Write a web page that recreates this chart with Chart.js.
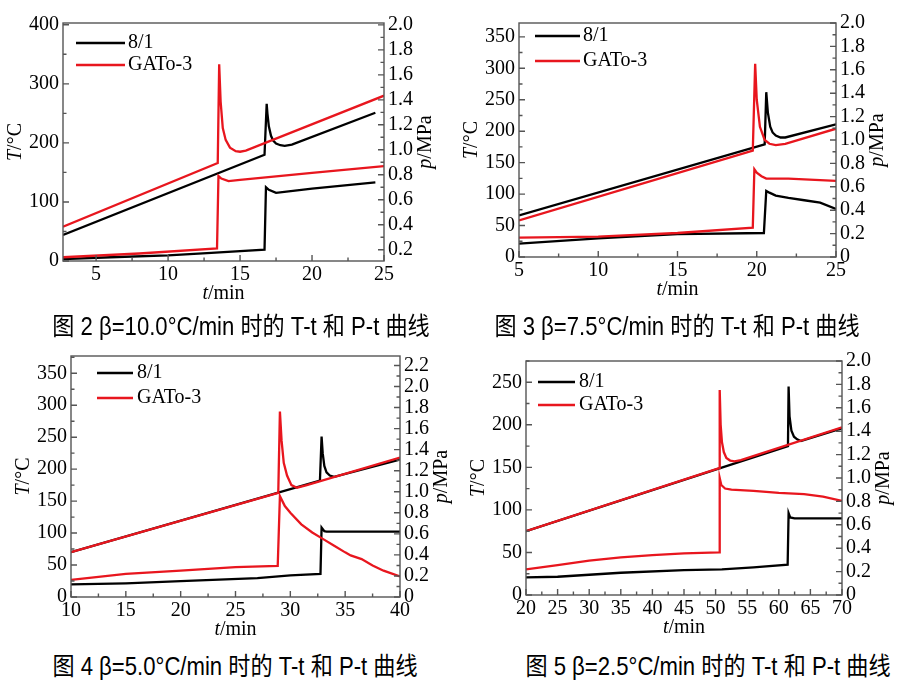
<!DOCTYPE html>
<html>
<head>
<meta charset="utf-8">
<script src="https://cdn.jsdelivr.net/npm/chart.js@4.4.0/dist/chart.umd.min.js"></script>
<style>
  body { margin: 0; background: #fff; width: 910px; height: 688px; position: relative; overflow: hidden; }
  canvas { position: absolute; }
  .cap { position: absolute; font: 25px/30px "Liberation Sans", "Noto Sans CJK SC", sans-serif; color: #000; white-space: nowrap; transform: translateX(-50%) scaleX(0.885); }
</style>
</head>
<body>
<canvas id="c2" width="455" height="305" style="left:0;top:0"></canvas>
<canvas id="c3" width="455" height="305" style="left:455px;top:0"></canvas>
<canvas id="c4" width="455" height="305" style="left:0;top:340px"></canvas>
<canvas id="c5" width="455" height="305" style="left:455px;top:340px"></canvas>
<div class="cap" style="left:241px;top:311px">图 2 β=10.0°C/min 时的 T-t 和 P-t 曲线</div>
<div class="cap" style="left:677px;top:311px">图 3 β=7.5°C/min 时的 T-t 和 P-t 曲线</div>
<div class="cap" style="left:235px;top:651px">图 4 β=5.0°C/min 时的 T-t 和 P-t 曲线</div>
<div class="cap" style="left:708px;top:651px">图 5 β=2.5°C/min 时的 T-t 和 P-t 曲线</div>
<script>
const seriesNames = ['8/1', 'GATo-3'];

// fig 2, beta = 10.0 C/min
const f2_tT_81 = [2.7, 16.7, 16.85, 16.9, 17.0, 17.15, 17.3, 17.5, 17.8, 18.1, 18.6, 24.4];
const f2_T_81  = [44, 180, 266, 250, 228, 212, 204, 199, 196, 195, 197, 251];
const f2_tT_GA = [2.7, 13.45, 13.55, 13.65, 13.8, 14.0, 14.3, 14.7, 15.0, 15.4, 25];
const f2_T_GA  = [58, 166, 333, 270, 225, 205, 192, 186, 185, 187, 280];
const f2_tp_81 = [2.7, 6, 10, 13, 16.7, 16.8, 17.0, 17.5, 20, 24.4];
const f2_p_81  = [0.125, 0.14, 0.155, 0.175, 0.20, 0.70, 0.68, 0.655, 0.69, 0.74];
const f2_tp_GA = [2.7, 8, 13.4, 13.5, 13.7, 14.2, 15, 20, 25];
const f2_p_GA  = [0.14, 0.17, 0.21, 0.79, 0.77, 0.75, 0.76, 0.815, 0.87];
const f2_xTicks = [5, 10, 15, 20, 25];
const f2_TTicks = [0, 100, 200, 300, 400];
const f2_pTicks = [0.2, 0.4, 0.6, 0.8, 1.0, 1.2, 1.4, 1.6, 1.8, 2.0];

// fig 3, beta = 7.5 C/min
const f3_tT_81 = [5, 20.5, 20.6, 20.7, 20.85, 21.0, 21.2, 21.5, 21.8, 25];
const f3_T_81  = [66, 179, 262, 230, 207, 198, 193, 190, 190, 211];
const f3_tT_GA = [5, 19.75, 19.9, 20.0, 20.2, 20.5, 20.8, 21.2, 21.8, 25];
const f3_T_GA  = [58, 169, 307, 250, 207, 186, 180, 178, 180, 204];
const f3_tp_81 = [5, 10, 15, 20.45, 20.6, 20.8, 21.2, 22, 23, 24, 25];
const f3_p_81  = [0.115, 0.16, 0.195, 0.205, 0.565, 0.55, 0.525, 0.505, 0.485, 0.465, 0.41];
const f3_tp_GA = [5, 10, 15, 19.75, 19.85, 20.0, 20.3, 20.6, 22, 25];
const f3_p_GA  = [0.165, 0.175, 0.205, 0.25, 0.75, 0.72, 0.69, 0.67, 0.67, 0.65];
const f3_xTicks = [5, 10, 15, 20, 25];
const f3_TTicks = [0, 50, 100, 150, 200, 250, 300, 350];
const f3_pTicks = [0, 0.2, 0.4, 0.6, 0.8, 1.0, 1.2, 1.4, 1.6, 1.8, 2.0];

// fig 4, beta = 5.0 C/min
const f4_tT_81 = [10, 32.7, 32.85, 32.95, 33.1, 33.3, 33.6, 34.0, 40];
const f4_T_81  = [70, 182, 251, 225, 205, 195, 190, 188, 215];
const f4_tT_GA = [10, 28.9, 29.05, 29.2, 29.4, 29.7, 30.1, 30.6, 31.5, 40];
const f4_T_GA  = [70, 163, 290, 245, 210, 190, 175, 171, 175, 218];
const f4_tp_81 = [10, 15, 20, 27, 30, 32.75, 32.85, 33.1, 33.3, 40];
const f4_p_81  = [0.12, 0.13, 0.15, 0.18, 0.205, 0.22, 0.66, 0.625, 0.622, 0.622];
const f4_tp_GA = [10, 15, 20, 25, 28.85, 29.05, 29.5, 30, 31, 32, 33, 34, 35, 35.5, 36.5, 37.5, 38.5, 40];
const f4_p_GA  = [0.163, 0.22, 0.25, 0.283, 0.295, 0.958, 0.864, 0.80, 0.69, 0.613, 0.55, 0.487, 0.424, 0.395, 0.36, 0.30, 0.25, 0.195];
const f4_xTicks = [10, 15, 20, 25, 30, 35, 40];
const f4_TTicks = [0, 50, 100, 150, 200, 250, 300, 350];
const f4_pTicks = [0, 0.2, 0.4, 0.6, 0.8, 1.0, 1.2, 1.4, 1.6, 1.8, 2.0, 2.2];

// fig 5, beta = 2.5 C/min
const f5_tT_81 = [20, 61.45, 61.55, 61.7, 62.0, 62.4, 62.9, 63.5, 70];
const f5_T_81  = [75, 175, 245, 210, 193, 186, 183, 181, 196];
const f5_tT_GA = [20, 50.55, 50.65, 50.8, 51.0, 51.3, 51.7, 52.3, 53.0, 54, 70];
const f5_T_GA  = [75, 149, 241, 200, 180, 168, 161, 158, 157, 158.5, 197];
const f5_tp_81 = [20, 25, 35, 45, 51, 56, 61.4, 61.55, 61.8, 62.5, 70];
const f5_p_81  = [0.15, 0.156, 0.19, 0.213, 0.219, 0.236, 0.26, 0.70, 0.663, 0.655, 0.655];
const f5_tp_GA = [20, 25, 30, 35, 40, 45, 50.55, 50.65, 50.9, 51.5, 52.5, 56, 60, 64, 67, 70];
const f5_p_GA  = [0.219, 0.256, 0.293, 0.321, 0.341, 0.356, 0.364, 1.0, 0.94, 0.91, 0.9, 0.89, 0.873, 0.862, 0.84, 0.805];
const f5_xTicks = [20, 25, 30, 35, 40, 45, 50, 55, 60, 65, 70];
const f5_TTicks = [0, 50, 100, 150, 200, 250];
const f5_pTicks = [0, 0.2, 0.4, 0.6, 0.8, 1.0, 1.2, 1.4, 1.6, 1.8, 2.0];

const RED = 'rgb(232,22,30)';
const BLACK = '#000';
const SERIF = '"Liberation Serif", "DejaVu Serif", serif';

function pts(t, v) {
    return t.map((x, i) => ({ x: x, y: v[i] }));
}

// half-step minor ticks inside [min,max]
function minors(major, min, max) {
    const step = major[1] - major[0];
    const out = [];
    for (let v = major[0] - step / 2; v <= max + 1e-9; v += step) {
        if (v >= min - 1e-9) out.push(v);
    }
    return out;
}

function drawTitle(ctx, parts, cx, cy, rot) {
    ctx.save();
    ctx.translate(cx, cy);
    if (rot) ctx.rotate(-Math.PI / 2);
    ctx.textBaseline = 'middle';
    ctx.textAlign = 'left';
    ctx.fillStyle = '#000';
    let w = 0;
    parts.forEach(p => {
        ctx.font = (p[1] ? 'italic ' : '') + '20px ' + SERIF;
        w += ctx.measureText(p[0]).width;
    });
    let x = -w / 2;
    parts.forEach(p => {
        ctx.font = (p[1] ? 'italic ' : '') + '20px ' + SERIF;
        ctx.fillText(p[0], x, 0);
        x += ctx.measureText(p[0]).width;
    });
    ctx.restore();
}

function makePanel(id, d) {
    const W = 455, H = 305;
    const frame = {
        id: 'frame' + id,
        afterDatasetsDraw(chart) {
            const ctx = chart.ctx, a = chart.chartArea;
            const sx = chart.scales.x, sy = chart.scales.y, sp = chart.scales.y2;
            ctx.save();
            ctx.strokeStyle = '#555';
            ctx.lineWidth = 1.4;
            ctx.strokeRect(a.left, a.top, a.right - a.left, a.bottom - a.top);
            ctx.beginPath();
            const tick = (list, len, fn) => list.forEach(v => fn(v, len));
            const xt = (v, len) => { const x = sx.getPixelForValue(v); ctx.moveTo(x, a.bottom); ctx.lineTo(x, a.bottom - len); };
            const lt = (v, len) => { const y = sy.getPixelForValue(v); ctx.moveTo(a.left, y); ctx.lineTo(a.left + len, y); };
            const rt = (v, len) => { const y = sp.getPixelForValue(v); ctx.moveTo(a.right, y); ctx.lineTo(a.right - len, y); };
            tick(d.xTicks, 6, xt);
            tick(minors(d.xTicks, d.x[0], d.x[1]), 3.5, xt);
            tick(d.TTicks, 6, lt);
            tick(minors(d.TTicks, d.T[0], d.T[1]), 3.5, lt);
            tick(d.pTicks, 6, rt);
            tick(minors(d.pTicks, d.p[0], d.p[1]), 3.5, rt);
            ctx.stroke();

            const midY = (a.top + a.bottom) / 2;
            drawTitle(ctx, [['T', 1], ['/°C', 0]], a.left - 47, midY, true);
            drawTitle(ctx, [['p', 1], ['/MPa', 0]], a.right + 42, midY, true);
            drawTitle(ctx, [['t', 1], ['/min', 0]], (a.left + a.right) / 2, a.bottom + 33, false);

            // legend
            const L = d.legend;
            [[BLACK, seriesNames[0], L.y1], [RED, seriesNames[1], L.y2]].forEach(r => {
                ctx.strokeStyle = r[0];
                ctx.lineWidth = 2.4;
                ctx.beginPath();
                ctx.moveTo(a.left + L.x0, a.top + r[2]);
                ctx.lineTo(a.left + L.x1, a.top + r[2]);
                ctx.stroke();
                ctx.fillStyle = '#000';
                ctx.font = '20px ' + SERIF;
                ctx.textBaseline = 'middle';
                ctx.fillText(r[1], a.left + L.tx, a.top + r[2]);
            });
            ctx.restore();
        }
    };

    const tickFont = { family: SERIF, size: 20 };
    new Chart(document.getElementById(id), {
        type: 'line',
        data: {
            datasets: [
                { label: seriesNames[1], data: pts(d.tT_GA, d.T_GA), yAxisID: 'y', borderColor: RED, order: 0 },
                { label: seriesNames[1], data: pts(d.tp_GA, d.p_GA), yAxisID: 'y2', borderColor: RED, order: 0 },
                { label: seriesNames[0], data: pts(d.tT_81, d.T_81), yAxisID: 'y', borderColor: BLACK, order: 1 },
                { label: seriesNames[0], data: pts(d.tp_81, d.p_81), yAxisID: 'y2', borderColor: BLACK, order: 1 }
            ]
        },
        options: {
            responsive: false,
            animation: false,
            devicePixelRatio: 1,
            layout: { padding: { top: d.area.t, left: 0, right: 0, bottom: 0 } },
            elements: { point: { radius: 0 }, line: { borderWidth: 2.3, tension: 0 } },
            plugins: { legend: { display: false }, tooltip: { enabled: false } },
            scales: {
                x: {
                    type: 'linear', position: 'bottom', min: d.x[0], max: d.x[1],
                    afterFit: s => { s.height = H - d.area.b; },
                    afterBuildTicks: s => { s.ticks = d.xTicks.map(v => ({ value: v })); },
                    grid: { display: false, drawTicks: false }, border: { display: false },
                    ticks: { font: tickFont, color: '#000', padding: 2, autoSkip: false, maxRotation: 0, callback: v => String(v) }
                },
                y: {
                    type: 'linear', position: 'left', min: d.T[0], max: d.T[1],
                    afterFit: s => { s.width = d.area.l; },
                    afterBuildTicks: s => { s.ticks = d.TTicks.map(v => ({ value: v })); },
                    grid: { display: false, drawTicks: false }, border: { display: false },
                    ticks: { font: tickFont, color: '#000', padding: 4, autoSkip: false, callback: v => String(v) }
                },
                y2: {
                    type: 'linear', position: 'right', min: d.p[0], max: d.p[1],
                    afterFit: s => { s.width = W - d.area.r; },
                    afterBuildTicks: s => { s.ticks = d.pTicks.map(v => ({ value: v })); },
                    grid: { display: false, drawTicks: false }, border: { display: false },
                    ticks: { font: tickFont, color: '#000', padding: 4, autoSkip: false, callback: v => (v === 0 ? '0' : v.toFixed(1)) }
                }
            }
        },
        plugins: [frame]
    });
}

makePanel('c2', {
    area: { l: 63, r: 384, t: 23, b: 261 }, x: [2.7, 25], T: [0, 403], p: [0.11, 2.015],
    xTicks: f2_xTicks, TTicks: f2_TTicks, pTicks: f2_pTicks,
    tT_81: f2_tT_81, T_81: f2_T_81, tT_GA: f2_tT_GA, T_GA: f2_T_GA,
    tp_81: f2_tp_81, p_81: f2_p_81, tp_GA: f2_tp_GA, p_GA: f2_p_GA,
    legend: { x0: 13, x1: 62, tx: 65, y1: 20, y2: 42 }
});
makePanel('c3', {
    area: { l: 64, r: 381, t: 23, b: 257 }, x: [5, 25], T: [0, 372], p: [0, 2.0],
    xTicks: f3_xTicks, TTicks: f3_TTicks, pTicks: f3_pTicks,
    tT_81: f3_tT_81, T_81: f3_T_81, tT_GA: f3_tT_GA, T_GA: f3_T_GA,
    tp_81: f3_tp_81, p_81: f3_p_81, tp_GA: f3_tp_GA, p_GA: f3_p_GA,
    legend: { x0: 16, x1: 61, tx: 64, y1: 13, y2: 38 }
});
makePanel('c4', {
    area: { l: 71, r: 400, t: 14, b: 257 }, x: [10, 40], T: [0, 377], p: [0, 2.29],
    xTicks: f4_xTicks, TTicks: f4_TTicks, pTicks: f4_pTicks,
    tT_81: f4_tT_81, T_81: f4_T_81, tT_GA: f4_tT_GA, T_GA: f4_T_GA,
    tp_81: f4_tp_81, p_81: f4_p_81, tp_GA: f4_tp_GA, p_GA: f4_p_GA,
    legend: { x0: 26, x1: 62, tx: 66, y1: 17, y2: 42 }
});
makePanel('c5', {
    area: { l: 71, r: 387, t: 21, b: 255 }, x: [20, 70], T: [0, 275], p: [0, 2.0],
    xTicks: f5_xTicks, TTicks: f5_TTicks, pTicks: f5_pTicks,
    tT_81: f5_tT_81, T_81: f5_T_81, tT_GA: f5_tT_GA, T_GA: f5_T_GA,
    tp_81: f5_tp_81, p_81: f5_p_81, tp_GA: f5_tp_GA, p_GA: f5_p_GA,
    legend: { x0: 12, x1: 49, tx: 53, y1: 21, y2: 44 }
});
</script>
</body>
</html>
